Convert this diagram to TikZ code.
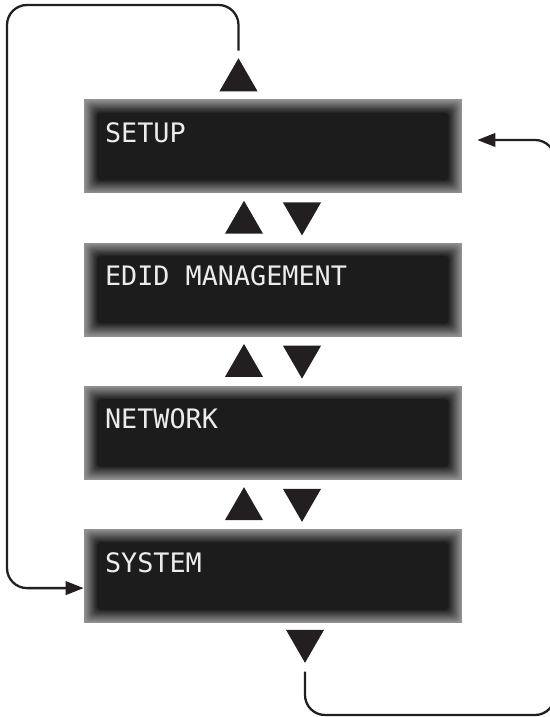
\documentclass[tikz,border=0pt]{standalone}
\usepackage{fontspec}
\newfontfamily\lcdfont{DejaVu Sans Mono}
\usepackage{tikz}
\usetikzlibrary{arrows.meta, shapes.geometric, positioning, calc}
\definecolor{lcddark}{RGB}{28,28,28}
\definecolor{lcdedge}{RGB}{146,146,146}
\definecolor{lcdtext}{RGB}{236,236,236}
\definecolor{inkblack}{RGB}{35,31,32}
\newcommand{\lcdgap}{\hspace*{0.602em}}

\begin{document}
\begin{tikzpicture}[
  lcd/.style={fill=lcdedge, minimum width=7.56cm, minimum height=1.88cm,
    text width=6.72cm, inner xsep=0.42cm, inner ysep=0pt, align=left,
    text height=0.39cm, text depth=0.55cm, text=lcdtext,
    font=\lcdfont\fontsize{15.25}{18}\selectfont,
    path picture={
      \foreach \k in {1,...,14}{
        \pgfmathsetmacro{\d}{\k*0.019}
        \pgfmathtruncatemacro{\p}{\k*100/14}
        \fill[lcddark!\p!lcdedge, rounded corners=0.08cm]
          ([shift={(\d,\d)}]path picture bounding box.south west) rectangle
          ([shift={(-\d,-\d)}]path picture bounding box.north east);
      }
    }},
  upmark/.style={regular polygon, regular polygon sides=3, minimum size=0.88cm,
    inner sep=0pt, fill=inkblack},
  downmark/.style={upmark, shape border rotate=180},
  wire/.style={draw=inkblack, line width=1.3pt, rounded corners=0.4cm,
    -{Triangle[length=0.36cm, width=0.27cm]}}
]
\useasboundingbox (0,0) rectangle (11,14.34);
\clip (0,0) rectangle (11,14.34);
% menu screens
\node[lcd] (setup) at (5.46,11.41) {SETUP};
\node[lcd, below=0.97cm of setup] (edid) {EDID\lcdgap MANAGEMENT};
\node[lcd, below=0.97cm of edid] (network) {NETWORK};
\node[lcd, below=0.97cm of network] (system) {SYSTEM};
% up/down keys between screens
\foreach \a/\b [count=\i] in {setup/edid, edid/network, network/system}{
  \node[upmark, anchor=south] (up\i) at ($(\a.south)!0.5!(\b.north)+(-0.58,-0.32)$) {};
  \node[downmark, anchor=north] (dn\i) at ($(\a.south)!0.5!(\b.north)+(0.58,0.32)$) {};
}
\node[upmark, anchor=south] (uptop) at ([xshift=-0.69cm, yshift=0.15cm]setup.north) {};
\node[downmark, anchor=north] (dnbot) at ([xshift=0.64cm, yshift=-0.12cm]system.south) {};
% wrap-around
\draw[wire] ([yshift=0.14cm]uptop.north) |- (0.14,14.24) |- ([yshift=-0.24cm]system.west);
\draw[wire] ([yshift=-0.16cm]dnbot.south) |- (11.1,0.04) |- ([shift={(0.3cm,0.13cm)}]setup.east);
\end{tikzpicture}
\end{document}
